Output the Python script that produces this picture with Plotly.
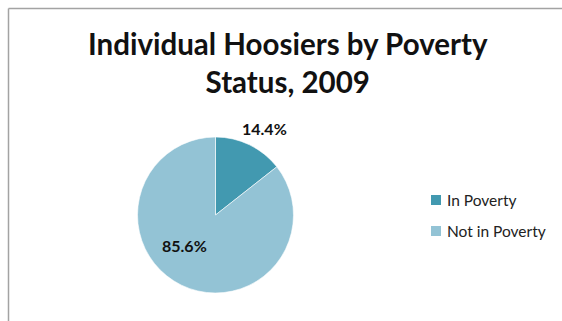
import plotly.graph_objects as go

# Poverty status shares for individual Hoosiers, 2009 (percent)
categories = ["In Poverty", "Not in Poverty"]
shares = [14.4, 85.6]
colors = ["#4299b0", "#93c3d5"]

W, H = 562, 321
FONT = "Lato, 'Open Sans', sans-serif"


def px(x):
    return x / W


def py(y):
    return 1 - y / H


# Pie centred at (215.5, 215) px with radius 78 px
cx, cy, r = 215.5, 215, 78

fig = go.Figure(
    go.Pie(
        labels=categories,
        values=shares,
        sort=False,
        direction="clockwise",
        rotation=0,
        marker=dict(colors=colors, line=dict(color="white", width=0.6)),
        textinfo="none",
        hoverinfo="label+percent",
        showlegend=False,
        domain=dict(x=[px(cx - r), px(cx + r)], y=[py(cy + r), py(cy - r)]),
    )
)

annotations = [
    dict(
        text="<b>Individual Hoosiers by Poverty<br>Status, 2009</b>",
        x=px(288), y=py(62), xref="paper", yref="paper",
        xanchor="center", yanchor="middle", showarrow=False,
        font=dict(family=FONT, size=29.5, color="#111111"),
    )
]

# Slice value labels
label_pos = [(264, 129), (184, 245)]
for v, (lx, ly) in zip(shares, label_pos):
    annotations.append(dict(
        text=f"<b>{v:.1f}%</b>", x=px(lx), y=py(ly), xref="paper", yref="paper",
        xanchor="center", yanchor="middle", showarrow=False,
        font=dict(family=FONT, size=16, color="#111111"),
    ))

shapes = [
    # chart frame (left and top edges)
    dict(type="line", xref="paper", yref="paper", x0=px(8.5), x1=px(8.5),
         y0=py(8.5), y1=py(330), line=dict(color="#a3a3a3", width=1.5)),
    dict(type="line", xref="paper", yref="paper", x0=px(8.5), x1=px(570),
         y0=py(8.5), y1=py(8.5), line=dict(color="#a3a3a3", width=1.5)),
]

# Legend: colour swatches with category names
legend_rows = [200, 231]
for name, col, ry in zip(categories, colors, legend_rows):
    shapes.append(dict(type="rect", xref="paper", yref="paper",
                       x0=px(431), x1=px(441), y0=py(ry + 5), y1=py(ry - 5),
                       fillcolor=col, line=dict(width=0)))
    annotations.append(dict(
        text=name, x=px(445), y=py(ry), xref="paper", yref="paper",
        xanchor="left", yanchor="middle", showarrow=False,
        font=dict(family=FONT, size=15.5, color="#222222"),
    ))

fig.update_layout(
    width=W, height=H, autosize=False,
    margin=dict(l=0, r=0, t=0, b=0),
    paper_bgcolor="white", plot_bgcolor="white",
    annotations=annotations, shapes=shapes,
)

fig.write_html("out.html")
